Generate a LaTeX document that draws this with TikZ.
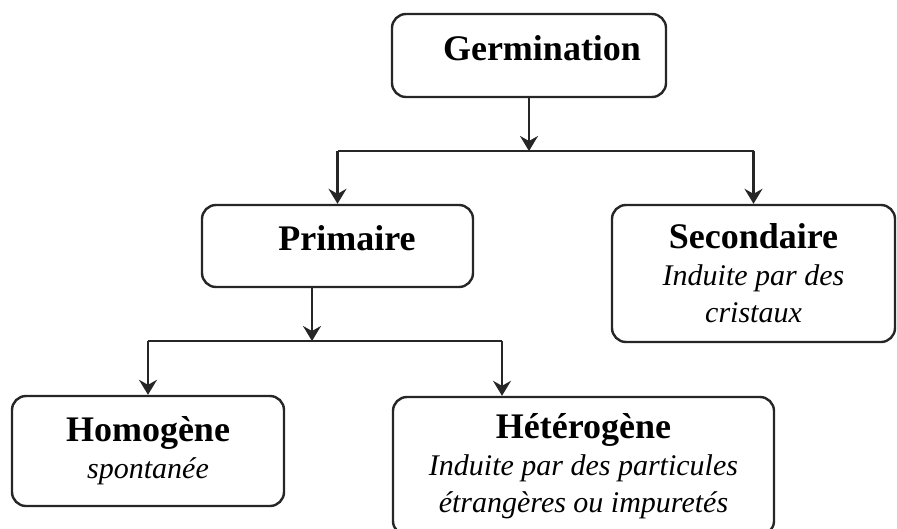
\documentclass[tikz,border=0pt]{standalone}
\usepackage{fontspec}
\setmainfont{Liberation Serif}
\usetikzlibrary{arrows.meta}
\newcommand\ttl[1]{{\fontsize{36}{37}\selectfont\bfseries\upshape #1}}
\tikzset{
  box/.style={draw=black!85, line width=2.4pt, rounded corners=14pt, inner sep=0pt, align=center, font=\fontsize{30}{37}\selectfont\itshape},
  arr/.style={line width=2.2pt, draw=black!85, -{Stealth[length=15pt,width=18pt,inset=5pt]}},
  lnk/.style={line width=2.2pt, draw=black!85}
}
\begin{document}
\begin{tikzpicture}[x=1pt,y=-1pt]
		\useasboundingbox (0,0) rectangle (897,528);
		\node[box, minimum width=274pt, minimum height=83pt, text height=46pt, text depth=37pt](germ) at (529,55.5){\ttl{\hspace*{26pt}Germination}};
		\node[box, minimum width=271pt, minimum height=82pt, text height=45pt, text depth=37pt](prim) at (337.5,246){\ttl{\hspace*{19pt}Primaire}};
		\node[box, minimum width=283pt, minimum height=137pt](sec) at (753.5,273.5){\ttl{Secondaire}\\Induite par des\\cristaux};
		\node[box, minimum width=272pt, minimum height=110pt](hom) at (148,451){\ttl{Homogène}\\spontanée};
		\node[box, minimum width=381pt, minimum height=138pt](het) at (583.5,466){\ttl{Hétérogène}\\Induite par des particules\\étrangères ou impuretés};
		\coordinate(j1) at (529,151);
		\coordinate(j2) at (312,341);
		\coordinate(b2) at (502,341);
		\draw[arr](germ)--(j1);
		\draw[lnk](prim.north |- j1)--(sec.north |- j1);
		\draw[arr](prim.north |- j1)--(prim.north);
		\draw[arr](sec.north |- j1)--(sec.north);
		\draw[arr](j2 |- prim.south)--(j2);
		\draw[lnk](hom.north |- j2)--(b2);
		\draw[arr](hom.north |- j2)--(hom.north);
		\draw[arr](b2)--(b2 |- het.north);
		\end{tikzpicture}
\end{document}
